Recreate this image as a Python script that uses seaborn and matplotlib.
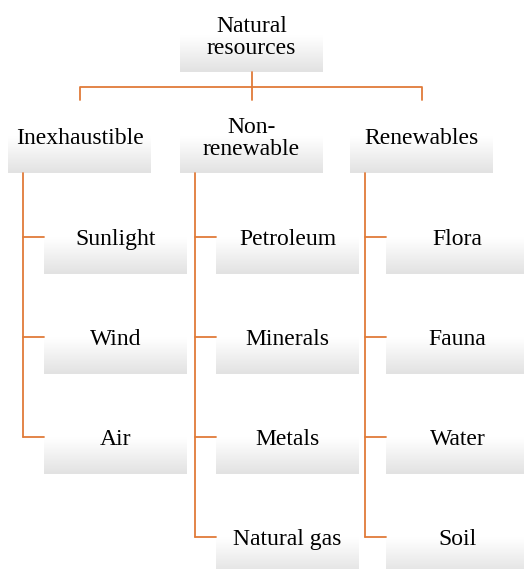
import numpy as np
import pandas as pd
import matplotlib
matplotlib.use("Agg")
import matplotlib.pyplot as plt
from matplotlib.colors import LinearSegmentedColormap
import seaborn as sns

# --- chart content ---
root = ["Natural", "resources"]
groups = ["Inexhaustible", "Non-\nrenewable", "Renewables"]
children = [
    ["Sunlight", "Wind", "Air"],
    ["Petroleum", "Minerals", "Metals", "Natural gas"],
    ["Flora", "Fauna", "Water", "Soil"],
]

sns.set_style("white")
plt.rcParams["font.family"] = ["Liberation Serif", "DejaVu Serif"]

LINE = "#E07B39"
box_cmap = LinearSegmentedColormap.from_list(
    "box", [(0, "#FFFFFF"), (0.5, "#FFFFFF"), (1, "#E2E2E2")])
grad = np.linspace(0, 1, 200).reshape(-1, 1)

fig = plt.figure(figsize=(5.24, 5.69), dpi=100)
ax = fig.add_axes([0, 0, 1, 1])
ax.set_xlim(0, 524)
ax.set_ylim(569, 0)
ax.axis("off")

BW, BH = 143, 72
FS = 17


def box(x0, y_bot, label):
    ax.imshow(grad, cmap=box_cmap, vmin=0, vmax=1, aspect="auto",
              extent=(x0, x0 + BW, y_bot, y_bot - BH), zorder=1)
    ax.text(x0 + BW / 2, y_bot - BH / 2 + 1.5, label, ha="center", va="center",
            fontsize=FS, color="black", linespacing=1.12, zorder=3)


def connector(xs, ys):
    d = pd.DataFrame({"x": xs, "y": ys})
    sns.lineplot(data=d, x="x", y="y", sort=False, estimator=None,
                 color=LINE, lw=1.3, ax=ax, zorder=2)


# root
root_x = 180
box(root_x, 72, "\n".join(root))

group_x = [8, 180, 350]
centers = [g + BW / 2 for g in group_x]
connector([root_x + BW / 2, root_x + BW / 2], [72, 87])
connector([centers[0], centers[0], centers[-1], centers[-1]], [100, 87, 87, 100])
connector([centers[1], centers[1]], [87, 100])

for gx, g, kids in zip(group_x, groups, children):
    box(gx, 173, g)
    trunk = gx + 15
    rows = [237 + 100 * i for i in range(len(kids))]
    connector([trunk, trunk], [173, rows[-1]])
    for ry, k in zip(rows, kids):
        connector([trunk, gx + 36], [ry, ry])
        box(gx + 36, ry + 37, k)

ax.set_xlim(0, 524)
ax.set_ylim(569, 0)
fig.savefig("out.png", dpi=100)
